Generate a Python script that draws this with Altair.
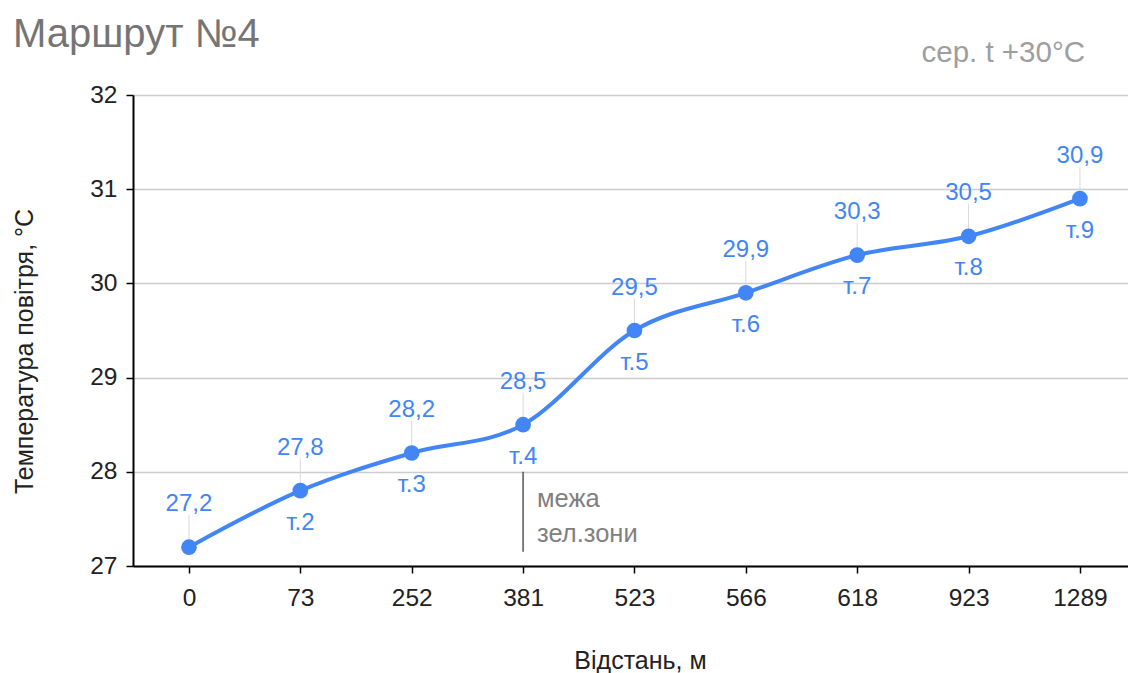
import altair as alt
import pandas as pd

# ---- data ----
distances = ["0", "73", "252", "381", "523", "566", "618", "923", "1289"]
temps = [27.2, 27.8, 28.2, 28.5, 29.5, 29.9, 30.3, 30.5, 30.9]
value_labels = ["27,2", "27,8", "28,2", "28,5", "29,5", "29,9", "30,3", "30,5", "30,9"]
point_labels = ["", "т.2", "т.3", "т.4", "т.5", "т.6", "т.7", "т.8", "т.9"]
y_ticks = [27, 28, 29, 30, 31, 32]

title_text = "Маршрут №4"
subtitle_text = "сер. t +30°C"
y_title = "Температура повітря, °С"
x_title = "Відстань, м"

boundary_x = ["381"]
boundary_top = [28.0]
boundary_bottom = [27.15]
boundary_text = ["межа", "зел.зони"]

FONT = "Liberation Sans"
BLUE = "#4285F4"

df = pd.DataFrame({"dist": distances, "temp": temps, "vlab": value_labels, "plab": point_labels})
bdf = pd.DataFrame({"dist": boundary_x, "top": boundary_top, "bottom": boundary_bottom,
                    "txt": ["\n".join(boundary_text)]})
tdf = pd.DataFrame({"t": [title_text]})
sdf = pd.DataFrame({"t": [subtitle_text]})

x_scale = alt.Scale(type="point", padding=0.467, align=0.538)
y_scale = alt.Scale(domain=[27, 32], nice=False, zero=False)

x_enc = alt.X(
    "dist:N", sort=distances, scale=x_scale,
    axis=alt.Axis(
        title=x_title, labelAngle=0, grid=False,
        domainColor="#000", domainWidth=2, tickColor="#000", tickWidth=1.5, tickSize=7,
        labelPadding=13, labelFontSize=24.5, labelFont=FONT, labelColor="#222",
        titleFont=FONT, titleFontSize=25, titleFontWeight="normal", titleColor="#222",
        titleX=507, titleY=102, titleBaseline="alphabetic", titleAlign="center",
    ),
)
y_enc = alt.Y(
    "temp:Q", scale=y_scale,
    axis=alt.Axis(
        title=y_title, values=y_ticks, format="d", grid=True, gridColor="#cccccc", gridWidth=1.5,
        domainColor="#000", domainWidth=2, tickColor="#000", tickWidth=1.5, tickSize=7,
        labelPadding=9, labelFontSize=24.5, labelFont=FONT, labelColor="#222",
        titleFont=FONT, titleFontSize=25, titleFontWeight="normal", titleColor="#222",
        titleX=-109, titleY=256, titleAngle=-90, titleBaseline="middle", titleAlign="center",
    ),
)

base = alt.Chart(df)

stems = base.mark_rule(color="#d9d9d9", strokeWidth=1, y2Offset=-32).encode(
    x=x_enc, y=y_enc, y2="temp:Q")

line = base.mark_line(color=BLUE, strokeWidth=4, interpolate="cardinal").encode(
    x=x_enc, y=y_enc)

points = base.mark_circle(size=245, color=BLUE, opacity=1).encode(x=x_enc, y=y_enc)

vlabels = base.mark_text(dy=-36, baseline="alphabetic", align="center", fontSize=24,
                         font=FONT, color=BLUE).encode(x=x_enc, y=y_enc, text="vlab:N")

plabels = base.mark_text(dy=39, baseline="alphabetic", align="center", fontSize=24,
                         font=FONT, color=BLUE).encode(x=x_enc, y=y_enc, text="plab:N")

brule = alt.Chart(bdf).mark_rule(color="#555555", strokeWidth=1.5).encode(
    x=alt.X("dist:N", sort=distances), y=alt.Y("top:Q"), y2="bottom:Q")

btext = alt.Chart(bdf).mark_text(
    align="left", baseline="alphabetic", dx=14, dy=35, lineBreak="\n", lineHeight=35,
    fontSize=25.5, font=FONT, color="#808080",
).encode(x=alt.X("dist:N", sort=distances), y=alt.Y("top:Q"), text="txt:N")

title = alt.Chart(tdf).mark_text(
    align="left", baseline="alphabetic", fontSize=40, font=FONT, color="#757575",
).encode(x=alt.value(-120), y=alt.value(-48), text="t:N")

subtitle = alt.Chart(sdf).mark_text(
    align="right", baseline="alphabetic", fontSize=29.5, font=FONT, color="#9e9e9e",
).encode(x=alt.value(952), y=alt.value(-33), text="t:N")

chart = alt.layer(stems, line, points, vlabels, plabels, brule, btext, title, subtitle).properties(
    width=995, height=471,
    autosize=alt.AutoSizeParams(type="none"),
    padding={"left": 133, "top": 95, "right": 0, "bottom": 107},
    background="white",
).configure_view(stroke=None)

chart.save("out.html", embed_options={"renderer": "svg", "actions": False})
